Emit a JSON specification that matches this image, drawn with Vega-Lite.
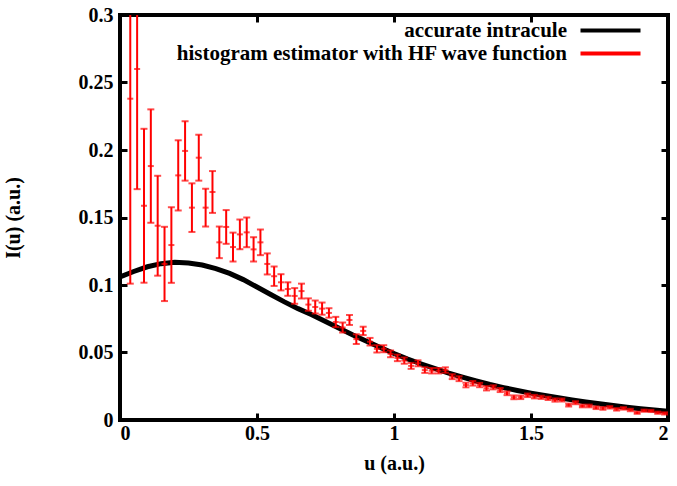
{
  "$schema": "https://vega.github.io/schema/vega-lite/v6.json",
  "width": 548,
  "height": 405,
  "autosize": "none",
  "padding": {"left": 120, "top": 15, "right": 9, "bottom": 66},
  "background": "white",
  "config": {
    "font": "'Liberation Serif', 'Times New Roman', serif",
    "view": {"stroke": "black", "strokeWidth": 4},
    "axis": {
      "labelFont": "'Liberation Serif', 'Times New Roman', serif", "labelFontWeight": "bold", "labelFontSize": 20, "labelColor": "black",
      "titleFont": "'Liberation Serif', 'Times New Roman', serif", "titleFontWeight": "bold", "titleFontSize": 20, "titleColor": "black",
      "domain": false, "grid": false, "tickColor": "black", "tickWidth": 3, "tickSize": -7
    },
    "legend": {"labelFont": "'Liberation Serif', 'Times New Roman', serif", "labelFontWeight": "bold", "labelFontSize": 21, "labelColor": "black", "labelLimit": 600}
  },
  "datasets": {
    "curve": [
      {"u": 0.00, "I": 0.1060}, {"u": 0.05, "I": 0.1100}, {"u": 0.10, "I": 0.1135}, {"u": 0.15, "I": 0.1158},
      {"u": 0.20, "I": 0.1168}, {"u": 0.25, "I": 0.1163}, {"u": 0.30, "I": 0.1148}, {"u": 0.35, "I": 0.1122},
      {"u": 0.40, "I": 0.1086}, {"u": 0.45, "I": 0.1040}, {"u": 0.50, "I": 0.0985}, {"u": 0.55, "I": 0.0930},
      {"u": 0.60, "I": 0.0875}, {"u": 0.65, "I": 0.0825}, {"u": 0.70, "I": 0.0780}, {"u": 0.75, "I": 0.0730},
      {"u": 0.80, "I": 0.0680}, {"u": 0.85, "I": 0.0630}, {"u": 0.90, "I": 0.0583}, {"u": 0.95, "I": 0.0537},
      {"u": 1.00, "I": 0.0493}, {"u": 1.05, "I": 0.0452}, {"u": 1.10, "I": 0.0415}, {"u": 1.15, "I": 0.0380},
      {"u": 1.20, "I": 0.0347}, {"u": 1.25, "I": 0.0317}, {"u": 1.30, "I": 0.0289}, {"u": 1.35, "I": 0.0263},
      {"u": 1.40, "I": 0.0240}, {"u": 1.45, "I": 0.0219}, {"u": 1.50, "I": 0.0199}, {"u": 1.55, "I": 0.0181},
      {"u": 1.60, "I": 0.0165}, {"u": 1.65, "I": 0.0149}, {"u": 1.70, "I": 0.0134}, {"u": 1.75, "I": 0.0120},
      {"u": 1.80, "I": 0.0107}, {"u": 1.85, "I": 0.0095}, {"u": 1.90, "I": 0.0084}, {"u": 1.95, "I": 0.0074},
      {"u": 2.00, "I": 0.0064}
    ],
    "hist": [
      {"u": 0.0375, "I": 0.238, "lo": 0.101, "hi": 0.375},
      {"u": 0.0625, "I": 0.260, "lo": 0.171, "hi": 0.349},
      {"u": 0.0875, "I": 0.1587, "lo": 0.1017, "hi": 0.2157},
      {"u": 0.1125, "I": 0.1881, "lo": 0.1461, "hi": 0.2301},
      {"u": 0.1375, "I": 0.1439, "lo": 0.1069, "hi": 0.1809},
      {"u": 0.1625, "I": 0.1156, "lo": 0.0881, "hi": 0.1431},
      {"u": 0.1875, "I": 0.1296, "lo": 0.1016, "hi": 0.1576},
      {"u": 0.2125, "I": 0.1812, "lo": 0.1552, "hi": 0.2072},
      {"u": 0.2375, "I": 0.1993, "lo": 0.1773, "hi": 0.2213},
      {"u": 0.2625, "I": 0.1573, "lo": 0.1393, "hi": 0.1753},
      {"u": 0.2875, "I": 0.1943, "lo": 0.1773, "hi": 0.2113},
      {"u": 0.3125, "I": 0.1573, "lo": 0.1433, "hi": 0.1713},
      {"u": 0.3375, "I": 0.1689, "lo": 0.1534, "hi": 0.1844},
      {"u": 0.3625, "I": 0.1316, "lo": 0.1199, "hi": 0.1433},
      {"u": 0.3875, "I": 0.1430, "lo": 0.1305, "hi": 0.1555},
      {"u": 0.4125, "I": 0.1281, "lo": 0.1174, "hi": 0.1388},
      {"u": 0.4375, "I": 0.1375, "lo": 0.1265, "hi": 0.1485},
      {"u": 0.4625, "I": 0.1390, "lo": 0.1280, "hi": 0.1500},
      {"u": 0.4875, "I": 0.1264, "lo": 0.1174, "hi": 0.1354},
      {"u": 0.5125, "I": 0.1316, "lo": 0.1221, "hi": 0.1411},
      {"u": 0.5375, "I": 0.1156, "lo": 0.1078, "hi": 0.1234},
      {"u": 0.5625, "I": 0.1065, "lo": 0.0993, "hi": 0.1137},
      {"u": 0.5875, "I": 0.1020, "lo": 0.0960, "hi": 0.1080},
      {"u": 0.6125, "I": 0.0970, "lo": 0.0920, "hi": 0.1020},
      {"u": 0.6375, "I": 0.0919, "lo": 0.0861, "hi": 0.0977},
      {"u": 0.6625, "I": 0.0955, "lo": 0.0900, "hi": 0.1010},
      {"u": 0.6875, "I": 0.0855, "lo": 0.0809, "hi": 0.0901},
      {"u": 0.7125, "I": 0.0837, "lo": 0.0789, "hi": 0.0885},
      {"u": 0.7375, "I": 0.0825, "lo": 0.0780, "hi": 0.0870},
      {"u": 0.7625, "I": 0.0793, "lo": 0.0758, "hi": 0.0828},
      {"u": 0.7875, "I": 0.0726, "lo": 0.0688, "hi": 0.0764},
      {"u": 0.8125, "I": 0.0685, "lo": 0.0648, "hi": 0.0722},
      {"u": 0.8375, "I": 0.0741, "lo": 0.0704, "hi": 0.0778},
      {"u": 0.8625, "I": 0.0599, "lo": 0.0563, "hi": 0.0635},
      {"u": 0.8875, "I": 0.0660, "lo": 0.0629, "hi": 0.0691},
      {"u": 0.9125, "I": 0.0580, "lo": 0.0552, "hi": 0.0608},
      {"u": 0.9375, "I": 0.0527, "lo": 0.0500, "hi": 0.0554},
      {"u": 0.9625, "I": 0.0528, "lo": 0.0502, "hi": 0.0554},
      {"u": 0.9875, "I": 0.0490, "lo": 0.0465, "hi": 0.0515},
      {"u": 1.0125, "I": 0.0460, "lo": 0.0436, "hi": 0.0484},
      {"u": 1.0375, "I": 0.0440, "lo": 0.0417, "hi": 0.0463},
      {"u": 1.0625, "I": 0.0401, "lo": 0.0379, "hi": 0.0423},
      {"u": 1.0875, "I": 0.0420, "lo": 0.0398, "hi": 0.0442},
      {"u": 1.1125, "I": 0.0370, "lo": 0.0349, "hi": 0.0391},
      {"u": 1.1375, "I": 0.0365, "lo": 0.0345, "hi": 0.0385},
      {"u": 1.1625, "I": 0.0365, "lo": 0.0345, "hi": 0.0385},
      {"u": 1.1875, "I": 0.0370, "lo": 0.0350, "hi": 0.0390},
      {"u": 1.2125, "I": 0.0321, "lo": 0.0303, "hi": 0.0339},
      {"u": 1.2375, "I": 0.0306, "lo": 0.0288, "hi": 0.0324},
      {"u": 1.2625, "I": 0.0259, "lo": 0.0242, "hi": 0.0276},
      {"u": 1.2875, "I": 0.0272, "lo": 0.0255, "hi": 0.0289},
      {"u": 1.3125, "I": 0.0259, "lo": 0.0243, "hi": 0.0275},
      {"u": 1.3375, "I": 0.0235, "lo": 0.0219, "hi": 0.0251},
      {"u": 1.3625, "I": 0.0242, "lo": 0.0227, "hi": 0.0257},
      {"u": 1.3875, "I": 0.0222, "lo": 0.0207, "hi": 0.0237},
      {"u": 1.4125, "I": 0.0198, "lo": 0.0184, "hi": 0.0212},
      {"u": 1.4375, "I": 0.0168, "lo": 0.0154, "hi": 0.0182},
      {"u": 1.4625, "I": 0.0168, "lo": 0.0155, "hi": 0.0181},
      {"u": 1.4875, "I": 0.0183, "lo": 0.0170, "hi": 0.0196},
      {"u": 1.5125, "I": 0.0173, "lo": 0.0160, "hi": 0.0186},
      {"u": 1.5375, "I": 0.0168, "lo": 0.0156, "hi": 0.0180},
      {"u": 1.5625, "I": 0.0160, "lo": 0.0148, "hi": 0.0172},
      {"u": 1.5875, "I": 0.0148, "lo": 0.0136, "hi": 0.0160},
      {"u": 1.6125, "I": 0.0148, "lo": 0.0137, "hi": 0.0159},
      {"u": 1.6375, "I": 0.0111, "lo": 0.0100, "hi": 0.0122},
      {"u": 1.6625, "I": 0.0128, "lo": 0.0117, "hi": 0.0139},
      {"u": 1.6875, "I": 0.0104, "lo": 0.0094, "hi": 0.0114},
      {"u": 1.7125, "I": 0.0104, "lo": 0.0094, "hi": 0.0114},
      {"u": 1.7375, "I": 0.0091, "lo": 0.0081, "hi": 0.0101},
      {"u": 1.7625, "I": 0.0086, "lo": 0.0076, "hi": 0.0096},
      {"u": 1.7875, "I": 0.0094, "lo": 0.0085, "hi": 0.0103},
      {"u": 1.8125, "I": 0.0079, "lo": 0.0070, "hi": 0.0088},
      {"u": 1.8375, "I": 0.0086, "lo": 0.0077, "hi": 0.0095},
      {"u": 1.8625, "I": 0.0074, "lo": 0.0065, "hi": 0.0083},
      {"u": 1.8875, "I": 0.0054, "lo": 0.0046, "hi": 0.0062},
      {"u": 1.9125, "I": 0.0069, "lo": 0.0061, "hi": 0.0077},
      {"u": 1.9375, "I": 0.0067, "lo": 0.0059, "hi": 0.0075},
      {"u": 1.9625, "I": 0.0054, "lo": 0.0046, "hi": 0.0062},
      {"u": 1.9875, "I": 0.0049, "lo": 0.0041, "hi": 0.0057}
    ]
  },
  "resolve": {"axis": {"x": "independent", "y": "independent"}},
  "layer": [
    {
      "data": {"name": "curve"},
      "mark": {"type": "line", "strokeWidth": 5, "clip": true},
      "encoding": {
        "x": {"field": "u", "type": "quantitative", "scale": {"domain": [0, 2], "nice": false, "zero": false},
              "axis": {"orient": "bottom", "values": [0, 0.5, 1, 1.5, 2], "format": "~g", "title": "u (a.u.)", "labelPadding": 10, "titlePadding": 10}},
        "y": {"field": "I", "type": "quantitative", "scale": {"domain": [0, 0.3], "nice": false},
              "axis": {"orient": "left", "values": [0, 0.05, 0.1, 0.15, 0.2, 0.25, 0.3], "format": "~g", "title": "I(u) (a.u.)", "labelPadding": 14, "titlePadding": 55}},
        "color": {"datum": "accurate intracule", "type": "nominal",
                  "scale": {"domain": ["accurate intracule", "histogram estimator with HF wave function"], "range": ["#000000", "#ff0000"]},
                  "legend": {"title": null, "orient": "none", "legendX": 480, "legendY": 5, "symbolType": "M-3.75,0H3.75", "symbolStrokeWidth": 4, "symbolSize": 256, "labelAlign": "right", "labelOffset": -54, "rowPadding": 1}}
      }
    },
    {
      "data": {"name": "hist"},
      "mark": {"type": "rule", "strokeWidth": 2, "clip": true},
      "encoding": {
        "x": {"field": "u", "type": "quantitative", "axis": {"orient": "top", "values": [0, 0.5, 1, 1.5, 2], "labels": false, "title": null}},
        "y": {"field": "lo", "type": "quantitative", "axis": {"orient": "right", "values": [0, 0.05, 0.1, 0.15, 0.2, 0.25, 0.3], "labels": false, "title": null}},
        "y2": {"field": "hi"},
        "color": {"datum": "histogram estimator with HF wave function", "type": "nominal"}
      }
    },
    {
      "data": {"name": "hist"},
      "mark": {"type": "tick", "orient": "horizontal", "size": 7, "thickness": 2, "color": "#ff0000", "clip": true},
      "encoding": {
        "x": {"field": "u", "type": "quantitative", "axis": null},
        "y": {"field": "lo", "type": "quantitative", "axis": null}
      }
    },
    {
      "data": {"name": "hist"},
      "mark": {"type": "tick", "orient": "horizontal", "size": 7, "thickness": 2, "color": "#ff0000", "clip": true},
      "encoding": {
        "x": {"field": "u", "type": "quantitative", "axis": null},
        "y": {"field": "hi", "type": "quantitative", "axis": null}
      }
    },
    {
      "data": {"name": "hist"},
      "mark": {"type": "tick", "orient": "horizontal", "size": 6, "thickness": 2, "color": "#ff0000", "clip": true},
      "encoding": {
        "x": {"field": "u", "type": "quantitative", "axis": null},
        "y": {"field": "I", "type": "quantitative", "axis": null}
      }
    }
  ]
}
